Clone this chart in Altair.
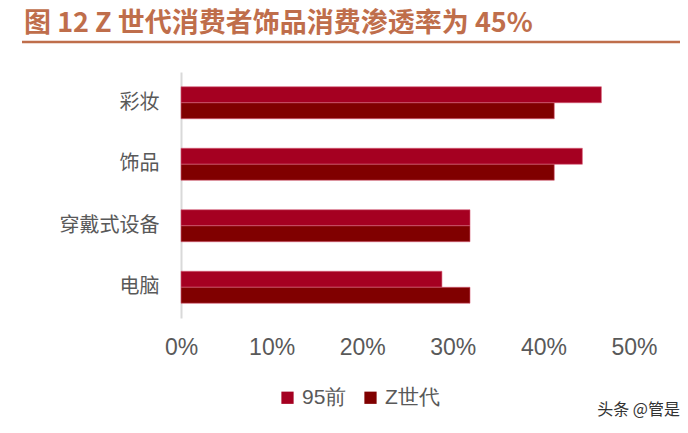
import altair as alt
import pandas as pd

# data
categories = ["彩妆", "饰品", "穿戴式设备", "电脑"]
series = ["95前", "Z世代"]
pre95 = [46.4, 44.3, 31.9, 28.8]
genz = [41.2, 41.2, 31.9, 31.9]
x_ticks = [0, 10, 20, 30, 40, 50]

title_text = "图 12 Z 世代消费者饰品消费渗透率为 45%"
watermark = "头条 @管是"

rows = []
for c, a, b in zip(categories, pre95, genz):
    rows.append({"category": c, "series": series[0], "value": a})
    rows.append({"category": c, "series": series[1], "value": b})
df = pd.DataFrame(rows)

font_cjk = "Noto Sans CJK SC"
gray = "#595959"

bars = alt.Chart(df).mark_bar(stroke="#D86078", strokeWidth=0.6).encode(
    y=alt.Y("category:N", sort=categories, title=None,
            scale=alt.Scale(paddingInner=0.48, paddingOuter=0.24),
            axis=alt.Axis(labelFont=font_cjk, labelFontSize=20, labelColor=gray,
                          labelPadding=22, ticks=False, domainColor="#D9D9D9",
                          domainWidth=2)),
    yOffset=alt.YOffset("series:N", sort=series),
    x=alt.X("value:Q", title=None,
            scale=alt.Scale(domain=[0, 50], nice=False),
            axis=alt.Axis(values=x_ticks, labelExpr="datum.value + '%'",
                          labelFont="Liberation Sans", labelFontSize=23,
                          labelColor=gray, labelPadding=18, ticks=False,
                          domain=False, grid=False, labelFlush=False)),
    color=alt.Color("series:N", sort=series, title=None,
                    scale=alt.Scale(domain=series, range=["#A50021", "#800000"]),
                    legend=alt.Legend(orient="none", legendX=96, legendY=315,
                                      direction="horizontal", symbolType="square",
                                      symbolSize=150, symbolStrokeWidth=0,
                                      labelFont="Liberation Sans", labelFontSize=21,
                                      labelColor=gray, labelOffset=4,
                                      columnPadding=13)),
)

title = alt.Chart(pd.DataFrame({"t": [title_text]})).mark_text(
    align="left", baseline="middle", font=font_cjk, fontSize=27,
    fontWeight="bold", color="#BF6E4B"
).encode(x=alt.value(-157), y=alt.value(-48), text="t:N")

underline = alt.Chart(pd.DataFrame({"a": [0]})).mark_rule(
    color="#BF6E4B", strokeWidth=2.5
).encode(x=alt.value(-159), x2=alt.value(520), y=alt.value(-30))

mark = alt.Chart(pd.DataFrame({"t": [watermark]})).mark_text(
    align="right", baseline="middle", font=font_cjk, fontSize=16, color="#333333"
).encode(x=alt.value(499), y=alt.value(338), text="t:N")

chart = alt.layer(bars, underline, title, mark).properties(
    width=453, height=246,
    autosize=alt.AutoSizeParams(type="none"),
    padding={"left": 173, "top": 64, "right": 46, "bottom": 107},
).configure_view(stroke=None)

chart.save("out.html", embed_options={"renderer": "svg", "actions": False})
